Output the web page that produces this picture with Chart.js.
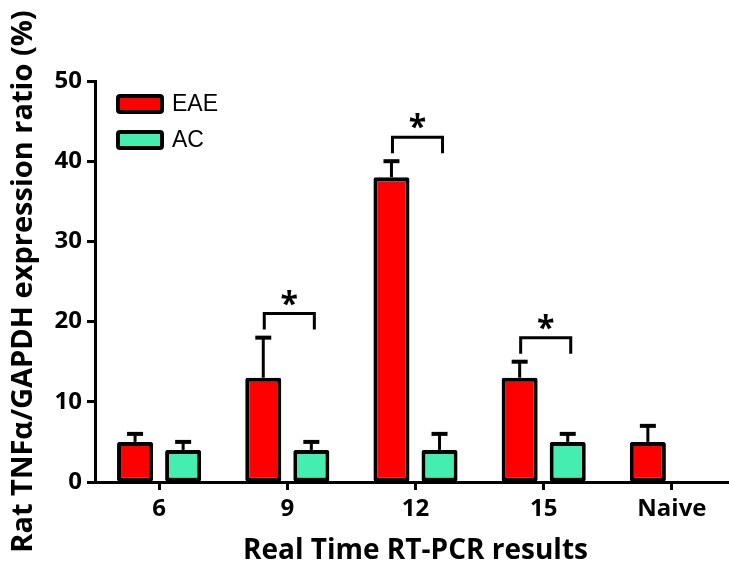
<!DOCTYPE html>
<html>
<head>
<meta charset="utf-8">
<script src="https://cdn.jsdelivr.net/npm/chart.js@4.4.0/dist/chart.umd.min.js"></script>
<style>
  html, body { margin: 0; padding: 0; overflow: hidden; background: #fff; }
  canvas { display: block; }
</style>
</head>
<body>
<canvas id="tnfChart" width="736" height="571"></canvas>
<script>
const categories = ['6', '9', '12', '15', 'Naive'];
const eaeValues = [5, 13, 38, 13, 5];
const acValues = [4, 4, 4, 5, null];
// upper error bar lengths
const eaeErrors = [1, 5, 2, 2, 2];
const acErrors = [1, 1, 2, 1, null];
// significance bracket heights (null = none)
const sigLevels = [null, 21, 43, 18, null];
const yTicks = [0, 10, 20, 30, 40, 50];

const FONT = '"Open Sans", "DejaVu Sans", sans-serif';

const errorBars = {
  id: 'errorBars',
  afterDatasetsDraw(chart) {
    const ctx = chart.ctx;
    const y = chart.scales.y;
    const errs = [eaeErrors, acErrors];
    ctx.save();
    ctx.strokeStyle = '#000';
    chart.data.datasets.forEach((ds, di) => {
      const meta = chart.getDatasetMeta(di);
      meta.data.forEach((bar, i) => {
        const v = ds.data[i];
        const e = errs[di][i];
        if (v == null || e == null) return;
        const top = y.getPixelForValue(v + e);
        ctx.lineWidth = 3;
        ctx.beginPath();
        ctx.moveTo(bar.x, bar.y);
        ctx.lineTo(bar.x, top);
        ctx.stroke();
        ctx.lineWidth = 4;
        ctx.beginPath();
        ctx.moveTo(bar.x - 8, top);
        ctx.lineTo(bar.x + 8, top);
        ctx.stroke();
      });
    });

    // significance brackets
    const m0 = chart.getDatasetMeta(0), m1 = chart.getDatasetMeta(1);
    sigLevels.forEach((lvl, i) => {
      if (lvl == null) return;
      const x0 = m0.data[i].x + 1, x1 = m1.data[i].x + 3;
      const yy = y.getPixelForValue(lvl);
      const yl = y.getPixelForValue(lvl - 2);
      ctx.lineWidth = 3;
      ctx.beginPath();
      ctx.moveTo(x0, yl);
      ctx.lineTo(x0, yy);
      ctx.lineTo(x1, yy);
      ctx.lineTo(x1, yl);
      ctx.stroke();
      ctx.fillStyle = '#000';
      ctx.font = 'bold 32px ' + FONT;
      ctx.textAlign = 'center';
      ctx.textBaseline = 'middle';
      ctx.fillText('*', (x0 + x1) / 2, yy - 8);
    });

    // legend inside chart area
    const a = chart.chartArea;
    chart.data.datasets.forEach((ds, di) => {
      const bx = a.left + 23, by = a.top + 15 + di * 36;
      ctx.fillStyle = ds.backgroundColor;
      ctx.strokeStyle = '#000';
      ctx.lineWidth = 4;
      ctx.beginPath();
      ctx.roundRect(bx, by, 44, 16, 2);
      ctx.fill();
      ctx.stroke();
      ctx.fillStyle = '#000';
      ctx.font = '23px "Liberation Sans", Arial, sans-serif';
      ctx.textAlign = 'left';
      ctx.textBaseline = 'middle';
      ctx.fillText(ds.label, bx + 54, by + 9);
    });
    ctx.restore();
  }
};

new Chart(document.getElementById('tnfChart'), {
  type: 'bar',
  data: {
    labels: categories,
    datasets: [
      {
        label: 'EAE',
        data: eaeValues,
        backgroundColor: '#FF0000',
        borderColor: '#000',
        borderWidth: 4,
        borderRadius: 2,
        borderSkipped: false
      },
      {
        label: 'AC',
        data: acValues,
        backgroundColor: '#44EEB0',
        borderColor: '#000',
        borderWidth: 4,
        borderRadius: 2,
        borderSkipped: false
      }
    ]
  },
  options: {
    responsive: false,
    animation: false,
    categoryPercentage: 0.75,
    barPercentage: 0.75,
    layout: { padding: { top: 81, right: 0, bottom: 0, left: 0 } },
    plugins: {
      legend: { display: false },
      tooltip: { enabled: false }
    },
    scales: {
      x: {
        afterFit(scale) { scale.height = 89; },
        grid: {
          offset: false,
          drawOnChartArea: false,
          color: '#000',
          tickLength: 8,
          tickWidth: 3
        },
        border: { display: true, color: '#000', width: 3 },
        ticks: {
          color: '#000',
          padding: 5,
          font: { family: FONT, size: 24, weight: 'bold' }
        },
        title: {
          display: true,
          text: 'Real Time RT-PCR results',
          color: '#000',
          padding: { top: 0, bottom: 3 },
          font: { family: FONT, size: 28, weight: 'bold' }
        }
      },
      y: {
        min: 0,
        max: 50,
        afterFit(scale) { scale.width = 95; },
        afterBuildTicks(scale) { scale.ticks = yTicks.map(v => ({ value: v })); },
        grid: {
          drawOnChartArea: false,
          color: '#000',
          tickLength: 8,
          tickWidth: 3
        },
        border: { display: true, color: '#000', width: 3 },
        ticks: {
          color: '#000',
          padding: 5,
          font: { family: FONT, size: 24, weight: 'bold' }
        },
        title: {
          display: true,
          text: 'Rat TNFα/GAPDH expression ratio (%)',
          color: '#000',
          padding: { top: 6, bottom: 0 },
          font: { family: FONT, size: 29, weight: 'bold' }
        }
      }
    }
  },
  plugins: [errorBars]
});
</script>
</body>
</html>
